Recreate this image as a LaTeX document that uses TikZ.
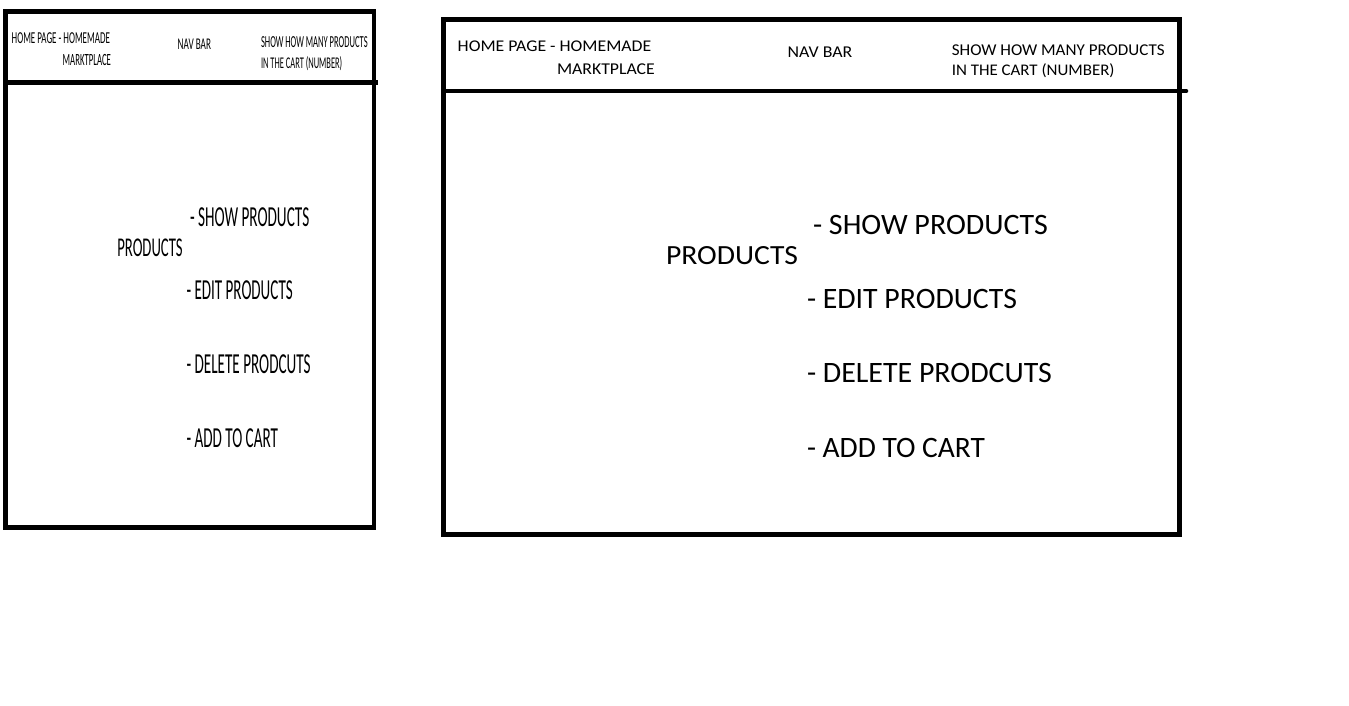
\documentclass[tikz,border=0pt]{standalone}
\usepackage{fontspec}
\setmainfont{Carlito}
\usepackage{graphicx}
\newcommand\fitT[3]{\resizebox{#1pt}{#2pt}{\smash{#3}\vphantom{H}}}
\tikzset{
  frame/.style={line width=4.6pt, line join=miter},
  lbl/.style={anchor=base west, inner sep=0pt, outer sep=0pt, text=black},
}
\begin{document}
\begin{tikzpicture}[x=1pt,y=-1pt]
\useasboundingbox[fill=white] (0,0) rectangle (1349,706);
% ---------- left panel ----------
\draw[frame] (5.3,11.3) rectangle (374,527.5);
\coordinate (lhA) at (5.3,82.8);
\coordinate (lhB) at (377.7,82.8);
\draw[frame] (lhA) -- (lhB);
\node[lbl] (l1) at (11.7,44) {\fitT{98.3}{10.7}{HOME PAGE - HOMEMADE}};
\node[lbl] (l2) at (62.7,65.7) {\fitT{48.3}{11}{MARKTPLACE}};
\node[lbl] (l3) at (177.7,49.3) {\fitT{33.3}{10.5}{NAV BAR}};
\node[lbl] (l4) at (261,47.7) {\fitT{106.7}{10.8}{SHOW HOW MANY PRODUCTS}};
\node[lbl] (l5) at (261,68.7) {\fitT{81.3}{10.5}{IN THE CART (NUMBER)}};
\node[lbl] (l6) at (117.3,256.7) {\fitT{65.4}{17.4}{PRODUCTS}};
\node[lbl] (l7) at (190,226) {\fitT{119.3}{18.6}{- SHOW PRODUCTS}};
\node[lbl] (l8) at (186.5,299.3) {\fitT{106.2}{18.6}{- EDIT PRODUCTS}};
\node[lbl] (l9) at (186.5,373.3) {\fitT{124.2}{18.6}{- DELETE PRODCUTS}};
\node[lbl] (l10) at (186.5,447.3) {\fitT{91.5}{18.6}{- ADD TO CART}};
% ---------- right panel ----------
\draw[frame] (443.5,19.8) rectangle (1179.2,534.5);
\coordinate (rhA) at (443.5,91);
\coordinate (rhB) at (1186,91);
\draw[frame, line cap=round] (rhA) -- (rhB);
\node[lbl] (r1) at (457.7,52) {\fitT{193.6}{10.5}{HOME PAGE - HOMEMADE}};
\node[lbl] (r2) at (557,74.2) {\fitT{97.8}{10.6}{MARKTPLACE}};
\node[lbl] (r3) at (787.6,57.4) {\fitT{64.7}{10.6}{NAV BAR}};
\node[lbl] (r4) at (951.8,55.7) {\fitT{212.8}{10.6}{SHOW HOW MANY PRODUCTS}};
\node[lbl] (r5) at (951.8,76) {\fitT{162.8}{10.4}{IN THE CART (NUMBER)}};
\node[lbl] (r6) at (666,264) {\fitT{132}{17.8}{PRODUCTS}};
\node[lbl] (r7) at (813,234) {\fitT{235}{19}{- SHOW PRODUCTS}};
\node[lbl] (r8) at (807,308) {\fitT{210}{19}{- EDIT PRODUCTS}};
\node[lbl] (r9) at (807,382) {\fitT{245}{19}{- DELETE PRODCUTS}};
\node[lbl] (r10) at (807,457) {\fitT{178}{19}{- ADD TO CART}};
\end{tikzpicture}
\end{document}
